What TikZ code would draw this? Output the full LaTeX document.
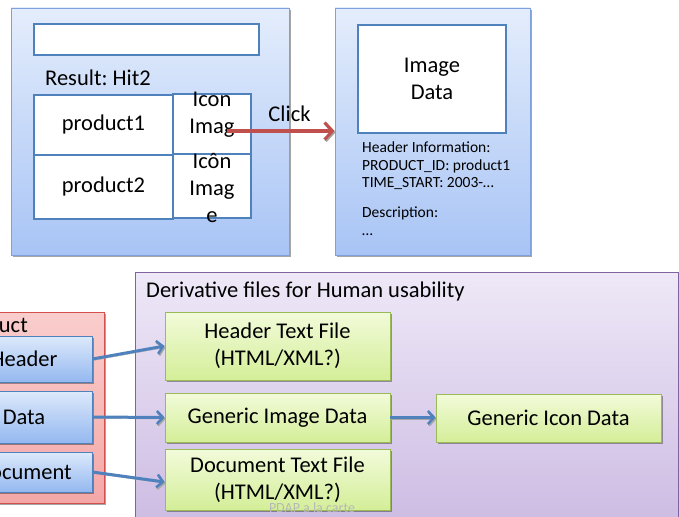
\documentclass[tikz,border=0pt]{standalone}
\usepackage{fontspec}
\setmainfont{Carlito}
\usetikzlibrary{shadows,arrows.meta,calc}
\frenchspacing

\definecolor{panelTop}{RGB}{228,237,252}
\definecolor{panelBot}{RGB}{168,196,245}
\definecolor{panelLine}{RGB}{126,160,220}
\definecolor{cellLine}{RGB}{79,129,189}
\definecolor{blueTop}{RGB}{221,233,251}
\definecolor{blueBot}{RGB}{148,184,240}
\definecolor{greenTop}{RGB}{242,251,218}
\definecolor{greenBot}{RGB}{212,238,152}
\definecolor{greenLine}{RGB}{155,187,89}
\definecolor{redTop}{RGB}{250,205,205}
\definecolor{redBot}{RGB}{244,168,168}
\definecolor{redLine}{RGB}{212,80,77}
\definecolor{purpleTop}{RGB}{238,232,247}
\definecolor{purpleBot}{RGB}{203,185,226}
\definecolor{purpleLine}{RGB}{128,100,162}
\definecolor{clickRed}{RGB}{192,80,77}

\begin{document}
\begin{tikzpicture}[x=1pt,y=-1pt,
  bigfont/.style={font=\fontsize{22.5}{27}\selectfont},
  smallfont/.style={font=\fontsize{15.5}{17.5}\selectfont},
  softshadow/.style={drop shadow={shadow xshift=1.5pt,shadow yshift=-2pt,opacity=0.35,fill=black}},
  screen/.style={draw=panelLine,line width=0.8pt,top color=panelTop,bottom color=panelBot,
    inner sep=0pt,softshadow},
  whitebox/.style={draw=cellLine,line width=2pt,fill=white,inner sep=0pt},
  bluebox/.style={draw=cellLine,line width=0.8pt,top color=blueTop,bottom color=blueBot,
    inner sep=0pt,softshadow,bigfont,minimum width=136pt},
  greenbox/.style={draw=greenLine,line width=0.8pt,top color=greenTop,bottom color=greenBot,
    inner sep=0pt,softshadow,bigfont,align=center,minimum width=225pt},
  flow/.style={draw=cellLine,line width=3pt,-{Straight Barb[length=6pt,width=13pt,line width=2.5pt]},
    preaction={draw=black!35,transform canvas={shift={(1pt,-1.5pt)}}}},
  clickflow/.style={draw=clickRed,line width=3.5pt,-{Straight Barb[length=8pt,width=17pt,line width=3pt]},
    preaction={draw=black!35,transform canvas={shift={(1pt,-1.5pt)}}}},
]
\useasboundingbox (0,0) rectangle (679,516);

% ---- search results screen ----
\node[screen,minimum width=278pt,minimum height=247pt] (resultscr) at (150,131.5) {};
\node[whitebox,minimum width=225pt,minimum height=31pt] (search) at (146.5,39.5) {};
\node[bigfont,anchor=base west,inner sep=0pt] (result) at (45,86) {Result: Hit2};
\node[whitebox,minimum width=139pt,minimum height=60pt,bigfont] (p1) at (103.5,125) {product1};
\node[whitebox,minimum width=78pt,minimum height=60pt] (i1) at (212,124) {};
\node[bigfont,align=center,inner sep=0pt] (i1text) at (212,115) {Icon\\Imag};
\node[whitebox,minimum width=139pt,minimum height=64pt,bigfont] (p2) at (103.5,187) {product2};
\node[whitebox,minimum width=78pt,minimum height=64pt] (i2) at (212,186) {};
\node[bigfont,align=center,inner sep=0pt] (i2text) at (212,188) {Icôn\\Imag\\e};

% ---- detail screen ----
\node[screen,minimum width=195pt,minimum height=247pt] (detailscr) at (432.5,131.5) {};
\node[whitebox,minimum width=148pt,minimum height=108pt,bigfont,align=center] (img) at (432,79) {Image\\Data};
\node[smallfont,align=left,anchor=north west,inner sep=0pt] (info) at (362,142)
  {Header Information:\\PRODUCT\_ID: product1\\TIME\_START: 2003-…\\[12.5pt]Description:\\[0.5pt]…};

% click link
\coordinate (clickstart) at (227,131);
\draw[clickflow] (clickstart) -- (detailscr.west |- clickstart);
\node[bigfont,inner sep=0pt] (clicklbl) at (289.5,114) {Click};

% ---- product ----
\node[draw=redLine,line width=0.8pt,top color=redTop,bottom color=redBot,inner sep=0pt,
  softshadow,minimum width=154pt,minimum height=191pt] (product) at (27,407.5) {};
\node[bigfont,anchor=base east,inner sep=0pt] (productlbl) at (28,332) {Product};
\node[bluebox,minimum height=46pt] (hdr) at (24,359) {Header};
\node[bluebox,minimum height=52pt] (data) at (24,417) {Data};
\node[bluebox,minimum height=40pt] (doc) at (24,472) {Document};

% ---- derivative files ----
\node[draw=purpleLine,line width=0.8pt,top color=purpleTop,bottom color=purpleBot,inner sep=0pt,
  minimum width=543pt,minimum height=268pt] (deriv) at (406.5,406) {};
\node[bigfont,anchor=base west,inner sep=0pt] (derivlbl) at (146,297) {Derivative files for Human usability};
\node[greenbox,minimum height=68pt] (ghdr) at (277.5,346) {Header Text File\\(HTML/XML?)};
\node[greenbox,minimum height=49pt] (gimg) at (277.5,417.5) {Generic Image Data};
\node[greenbox,minimum height=61pt] (gdoc) at (277.5,479.5) {Document Text File\\(HTML/XML?)};
\node[greenbox,minimum height=48pt] (gicon) at (548.5,418) {Generic Icon Data};

\draw[flow] (hdr.east) -- (ghdr.west);
\draw[flow] (data.east) -- (gimg.west);
\draw[flow] (doc.east) -- ($(gdoc.west)+(0,2.5)$);
\draw[flow] (gimg.east) -- (gicon.west |- gimg.east);

\node[font=\fontsize{14}{16}\selectfont,text=black!28,inner sep=0pt] (footer) at (312,508) {PDAP a la carte};
\end{tikzpicture}
\end{document}
